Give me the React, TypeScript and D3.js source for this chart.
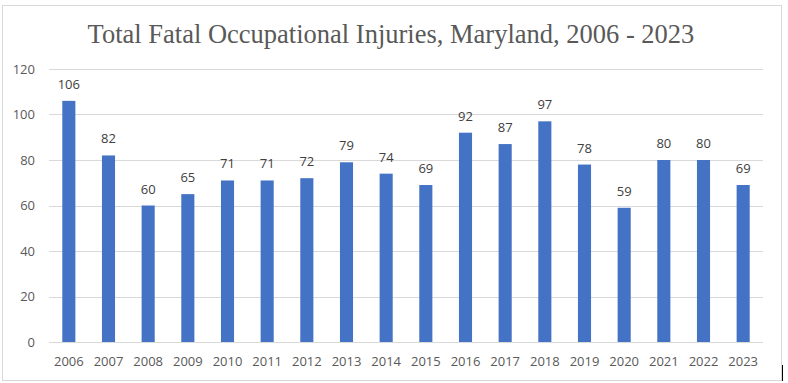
import React from "react";
import * as d3 from "d3";

const years = ["2006","2007","2008","2009","2010","2011","2012","2013","2014","2015","2016","2017","2018","2019","2020","2021","2022","2023"];
const values = [106,82,60,65,71,71,72,79,74,69,92,87,97,78,59,80,80,69];
const yTicks = [0,20,40,60,80,100,120];
const title = "Total Fatal Occupational Injuries, Maryland, 2006 - 2023";

export default function App() {
  const W = 788, H = 383;
  const left = 49, right = 763, top = 69, bottom = 342;
  const x = d3.scaleBand<string>().domain(years).range([left, right]).paddingInner(0.67).paddingOuter(0.335);
  const y = d3.scaleLinear().domain([0, 120]).range([bottom, top]);
  const font = "'Open Sans', 'Noto Sans', sans-serif";
  return (
    <svg width={W} height={H} style={{ position: "absolute", left: 0, top: 0, background: "#fff" }}>
      <rect x={2.5} y={5.5} width={779} height={375} fill="#fff" stroke="#d9d9d9" strokeWidth={1} />
      <text x={391} y={43} textAnchor="middle" fontFamily="'Liberation Serif', 'DejaVu Serif', serif" fontSize={26.5} fill="#595959">{title}</text>
      {yTicks.map(t => (
        <g key={t}>
          <line x1={left} x2={right} y1={Math.round(y(t)) + 0.5} y2={Math.round(y(t)) + 0.5} stroke="#d9d9d9" strokeWidth={1} />
          <text x={35} y={y(t) + 4.5} textAnchor="end" fontFamily={font} fontSize={13} fill="#595959">{t}</text>
        </g>
      ))}
      {years.map((yr, i) => (
        <g key={yr}>
          <rect x={x(yr)} y={y(values[i])} width={x.bandwidth()} height={bottom - y(values[i])} fill="#4472c4" />
          <text x={(x(yr) as number) + x.bandwidth() / 2} y={y(values[i]) - 12} textAnchor="middle" fontFamily={font} fontSize={13} fill="#404040">{values[i]}</text>
          <text x={(x(yr) as number) + x.bandwidth() / 2} y={366} textAnchor="middle" fontFamily={font} fontSize={13} fill="#595959">{yr}</text>
        </g>
      ))}
      <line x1={782.5} x2={782.5} y1={365} y2={381} stroke="#000" strokeWidth={1} />
    </svg>
  );
}
